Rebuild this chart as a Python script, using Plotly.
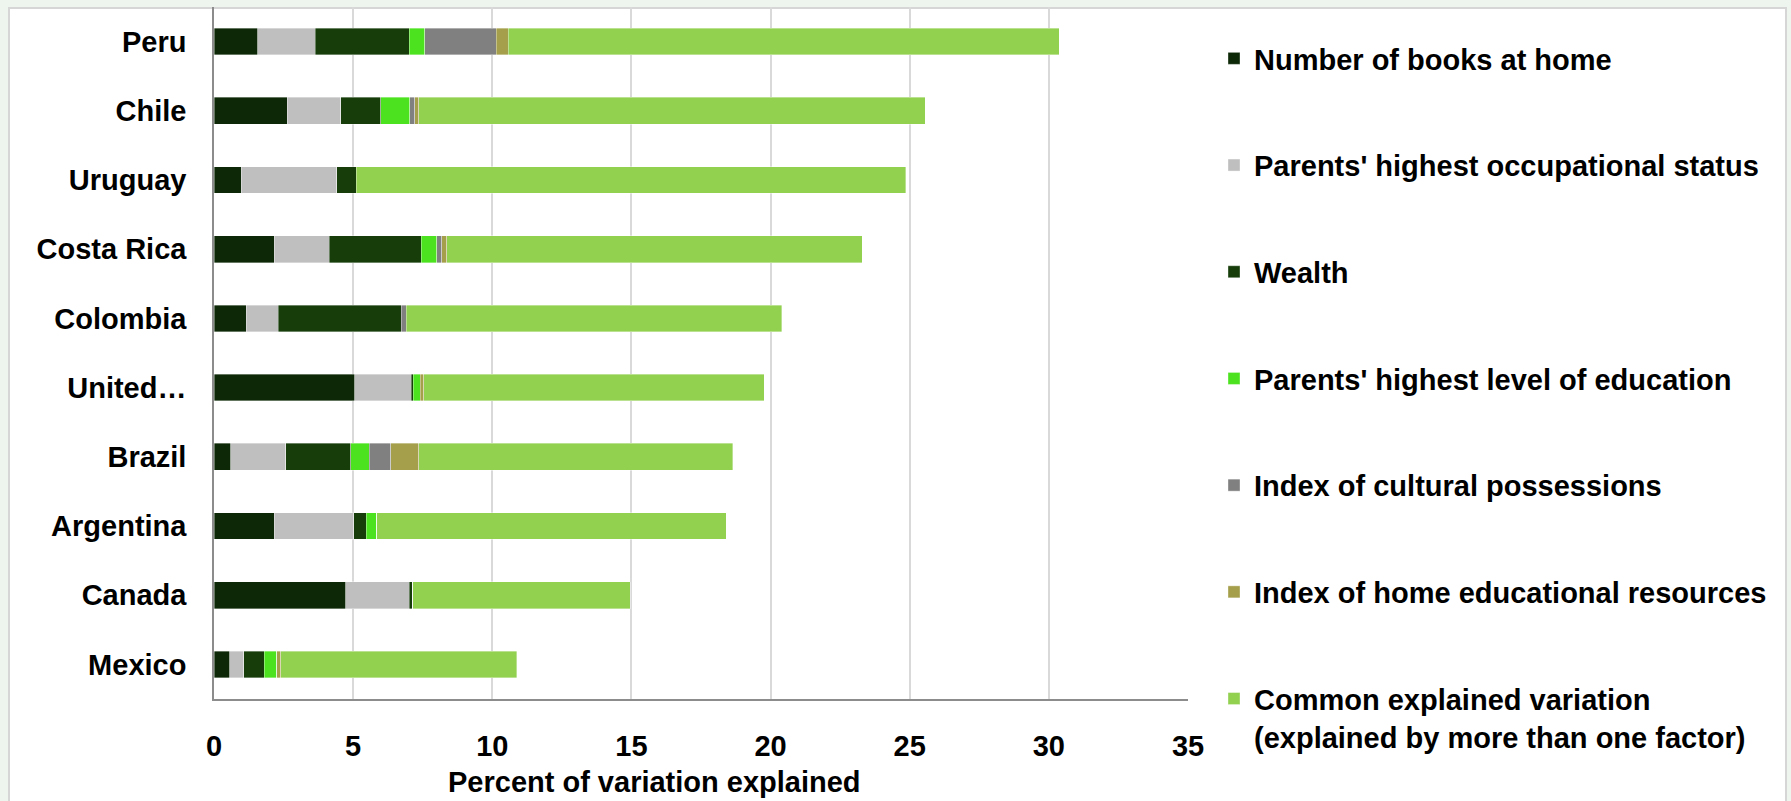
import plotly.graph_objects as go

countries = ["Peru", "Chile", "Uruguay", "Costa Rica", "Colombia", "United…",
             "Brazil", "Argentina", "Canada", "Mexico"]
books = [1.57, 2.63, 0.98, 2.17, 1.16, 5.05, 0.61, 2.16, 4.73, 0.56]
occupation = [2.07, 1.93, 3.43, 1.97, 1.15, 2.03, 1.97, 2.86, 2.29, 0.51]
wealth = [3.38, 1.43, 0.70, 3.30, 4.42, 0.08, 2.34, 0.45, 0.13, 0.73]
education = [0.56, 1.04, 0.00, 0.56, 0.00, 0.25, 0.66, 0.37, 0.00, 0.46]
cultural = [2.57, 0.19, 0.00, 0.18, 0.17, 0.00, 0.77, 0.00, 0.00, 0.00]
home_resources = [0.42, 0.13, 0.00, 0.19, 0.00, 0.12, 1.01, 0.00, 0.00, 0.14]
common = [19.80, 18.20, 19.75, 14.93, 13.50, 12.24, 11.28, 12.56, 7.81, 8.47]

series_names = [
    "Number of books at home",
    "Parents' highest occupational status",
    "Wealth",
    "Parents' highest level of education",
    "Index of cultural possessions",
    "Index of home educational resources",
    "Common explained variation<br>(explained by more than one factor)",
]
series_values = [books, occupation, wealth, education, cultural, home_resources, common]
series_colors = ["#0d2807", "#bfbfbf", "#163d0a", "#4ce21f", "#808080", "#a59e4a", "#92d050"]

x_ticks = [0, 5, 10, 15, 20, 25, 30, 35]
x_title = "Percent of variation explained"

FONT = "Liberation Sans, Arial, sans-serif"
FS = 29

fig = go.Figure()
for i, (name, vals, col) in enumerate(zip(series_names, series_values, series_colors)):
    fig.add_trace(go.Bar(
        y=countries, x=vals, name=name, orientation="h",
        marker=dict(color=col, line=dict(color="rgba(255,255,255,0.45)", width=0.8)),
        legendgroup=f"g{i}",
    ))

W, H = 1791, 801
L, R, T, B = 214, 603, 7, 102
pw = W - L - R
ph = H - T - B

def px_to_paper_x(px):
    return (px - L) / pw

def px_to_paper_y(py):
    return 1 - (py - T) / ph

fig.update_layout(
    width=W, height=H, autosize=False,
    barmode="stack", bargap=0.614,
    margin=dict(l=L, r=R, t=T, b=B, pad=0),
    paper_bgcolor="#eef5ee", plot_bgcolor="rgba(0,0,0,0)",
    font=dict(family=FONT, size=FS, color="#000000", weight="bold"),
    showlegend=True,
    legend=dict(
        x=px_to_paper_x(1214), xanchor="left",
        y=px_to_paper_y(33), yanchor="top",
        traceorder="grouped", tracegroupgap=66, valign="top",
        maxheight=795,
        font=dict(family=FONT, size=FS, color="#000000", weight="bold"),
        bgcolor="rgba(0,0,0,0)",
    ),
    xaxis=dict(
        range=[0, 35], tickvals=x_ticks, ticktext=[str(t) for t in x_ticks],
        showgrid=True, gridcolor="#d9d9d9", gridwidth=1.5,
        zeroline=False, showline=True, linecolor="#8c8c8c", linewidth=1.5,
        ticks="", ticklabelstandoff=20,
        tickfont=dict(family=FONT, size=FS, weight="bold"),
    ),
    yaxis=dict(
        categoryorder="array", categoryarray=countries, autorange="reversed",
        showgrid=False, zeroline=False, showline=True, linecolor="#8c8c8c", linewidth=1.5,
        ticks="", ticklabelstandoff=20,
        tickfont=dict(family=FONT, size=FS, weight="bold"),
    ),
    shapes=[dict(
        type="rect", xref="paper", yref="paper", layer="below",
        x0=px_to_paper_x(9), x1=px_to_paper_x(1786),
        y0=px_to_paper_y(805), y1=px_to_paper_y(8),
        fillcolor="#ffffff", line=dict(color="#d6d6d6", width=2),
    )],
    annotations=[dict(
        text=x_title, xref="paper", yref="paper",
        x=px_to_paper_x(654), y=px_to_paper_y(782),
        xanchor="center", yanchor="middle", showarrow=False,
        font=dict(family=FONT, size=FS, weight="bold", color="#000000"),
    )],
)

fig.write_html("out.html", config={"displayModeBar": False},
               post_script="document.body.style.margin='0';")
